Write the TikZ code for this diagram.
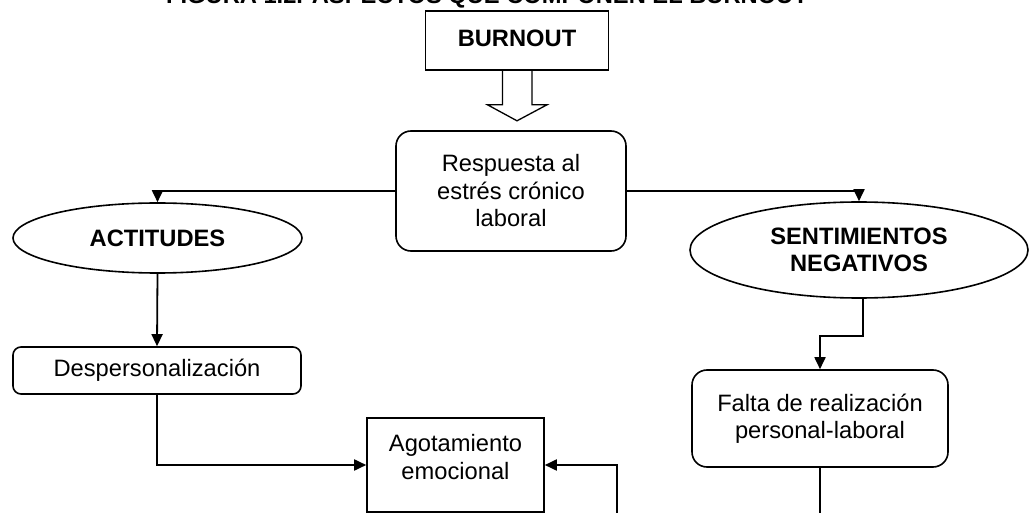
\documentclass[tikz,border=0pt]{standalone}
\usepackage{fontspec}
\setmainfont{Liberation Sans}
\usetikzlibrary{shapes.geometric,arrows.meta,calc}

\tikzset{
  txt/.style={font=\fontsize{23.7}{27.5}\selectfont, align=center, inner sep=0pt},
  hd/.style={txt, font=\fontsize{23.7}{27.5}\selectfont\bfseries},
  sqbox/.style={draw, line width=1.6pt, inner sep=0pt},
  rbox/.style={draw, line width=1.6pt, inner sep=0pt, rounded corners=15pt},
  oval/.style={draw, ellipse, line width=1.6pt, inner sep=0pt},
  link/.style={line width=1.8pt, -{Triangle[length=12pt,width=11pt]}},
  plain/.style={line width=1.8pt}
}

\begin{document}
\begin{tikzpicture}[x=1pt,y=-1pt]
  \useasboundingbox (0,0) rectangle (1029,513);
  \clip (0,0) rectangle (1029,513);

  % title line (runs off the top edge)
  \node (title) [hd, anchor=base] at (487,4) {FIGURA 1.2. ASPECTOS QUE COMPONEN EL BURNOUT};

  % boxes
  \node (burnout) [sqbox, hd, minimum width=183pt, minimum height=59pt] at (517,40.5) {\raisebox{4pt}{BURNOUT}};
  \node (resp) [rbox, txt, minimum width=230pt, minimum height=120pt] at (511,191)
        {Respuesta al\\estrés crónico\\laboral};
  \node (act) [oval, hd, minimum width=289pt, minimum height=70pt] at (157.5,238) {ACTITUDES};
  \node (desp) [rbox, rounded corners=8pt, txt, minimum width=288pt, minimum height=47pt] at (157,370.5)
        {Despersonalización};
  \node (agot) [sqbox, minimum width=177pt, minimum height=94pt] at (455.5,465) {};
  \node (agottxt) [txt] at (455.5,457) {Agotamiento\\emocional};
  \node (sent) [oval, hd, minimum width=338pt, minimum height=96pt] at (859,250)
        {SENTIMIENTOS\\NEGATIVOS};
  \node (falta) [rbox, txt, minimum width=256pt, minimum height=97pt] at (820,418.5)
        {Falta de realización\\personal-laboral};

  % hollow block arrow under BURNOUT
  \draw[line width=1.3pt, line join=miter]
    ($(burnout.south)+(-14.5,0)$) -- ++(0,34) -- ++(-15,0)
    -- ($(burnout.south)+(0,50)$)
    -- ($(burnout.south)+(30,34)$) -- ++(-15,0) -- ($(burnout.south)+(15,0)$);

  % connectors
  \draw[link] (resp.west) -| (act.north);
  \draw[link] (resp.east) -| (sent.north);
  \draw[link] (act.south) -- (desp.north);
  \draw[link] (desp.south) |- (agot.west);

  \coordinate (rin) at (617,514);
  \draw[link] (rin) |- (agot.east);

  \coordinate (sbot) at ($(sent.south)+(4,0)$);
  \draw[link] (sbot) -- ++(0,37) -| (falta.north);

  \coordinate (fout) at (820,514);
  \draw[plain] (falta.south) -- (fout);
\end{tikzpicture}
\end{document}
